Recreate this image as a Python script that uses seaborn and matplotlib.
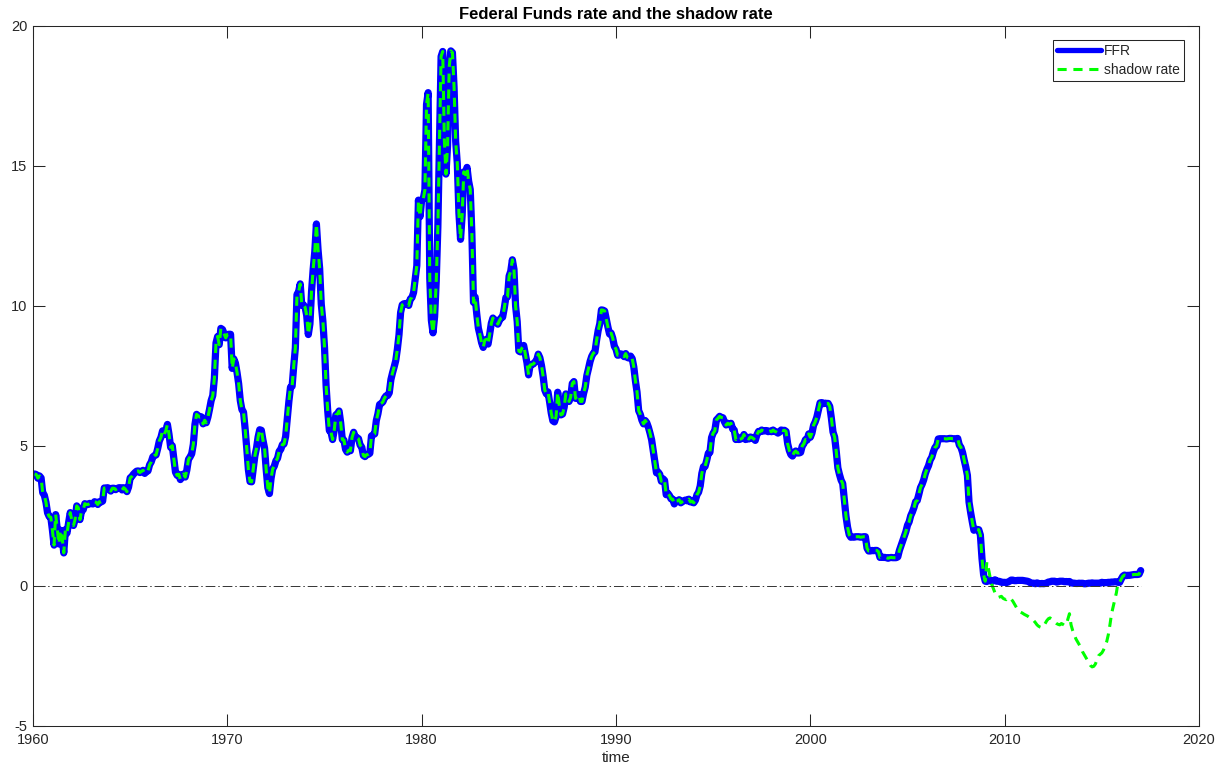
import numpy as np
import pandas as pd
import matplotlib
matplotlib.use("Agg")
import matplotlib.pyplot as plt
import seaborn as sns

# Effective Federal Funds rate, monthly averages (percent), Jan 1960 - Dec 2016
ffr_1960s = [
    3.99, 3.97, 3.84, 3.92, 3.85, 3.32, 3.23, 2.98, 2.60, 2.47, 2.44, 1.98,  # 1960
    1.45, 2.54, 2.02, 1.49, 1.98, 1.73, 1.17, 2.00, 1.88, 2.26, 2.61, 2.33,  # 1961
    2.15, 2.37, 2.85, 2.78, 2.36, 2.68, 2.71, 2.93, 2.90, 2.90, 2.94, 2.93,  # 1962
    2.92, 3.00, 2.98, 2.90, 3.00, 2.99, 3.02, 3.49, 3.48, 3.50, 3.48, 3.38,  # 1963
    3.48, 3.48, 3.43, 3.47, 3.50, 3.50, 3.42, 3.50, 3.45, 3.36, 3.52, 3.85,  # 1964
    3.90, 3.98, 4.04, 4.09, 4.10, 4.04, 4.09, 4.12, 4.01, 4.08, 4.10, 4.32,  # 1965
    4.42, 4.60, 4.65, 4.67, 4.90, 5.17, 5.30, 5.53, 5.40, 5.53, 5.76, 5.40,  # 1966
    4.94, 5.00, 4.53, 4.05, 3.94, 3.98, 3.79, 3.90, 3.99, 3.88, 4.13, 4.51,  # 1967
    4.60, 4.71, 5.05, 5.76, 6.12, 6.07, 6.02, 6.03, 5.78, 5.91, 5.82, 6.02,  # 1968
    6.30, 6.61, 6.79, 7.41, 8.67, 8.90, 8.61, 9.19, 9.15, 9.00, 8.85, 8.97,  # 1969
]
ffr_1970s = [
    8.98, 8.98, 7.76, 8.10, 7.95, 7.61, 7.21, 6.61, 6.29, 6.20, 5.60, 4.90,  # 1970
    4.14, 3.72, 3.71, 4.16, 4.63, 4.91, 5.31, 5.57, 5.55, 5.20, 4.91, 4.14,  # 1971
    3.50, 3.29, 3.83, 4.17, 4.27, 4.46, 4.55, 4.80, 4.87, 5.04, 5.06, 5.33,  # 1972
    5.94, 6.58, 7.09, 7.12, 7.84, 8.49, 10.40, 10.50, 10.78, 10.01, 10.03, 9.95,  # 1973
    9.65, 8.97, 9.35, 10.51, 11.31, 11.93, 12.92, 12.01, 11.34, 10.06, 9.45, 8.53,  # 1974
    7.13, 6.24, 5.54, 5.49, 5.22, 5.55, 6.10, 6.14, 6.24, 5.82, 5.22, 5.20,  # 1975
    4.87, 4.77, 4.84, 4.82, 5.29, 5.48, 5.31, 5.29, 5.25, 5.02, 4.95, 4.65,  # 1976
    4.61, 4.68, 4.69, 4.73, 5.35, 5.39, 5.42, 5.90, 6.14, 6.47, 6.51, 6.56,  # 1977
    6.70, 6.78, 6.79, 6.89, 7.36, 7.60, 7.81, 8.04, 8.45, 8.96, 9.76, 10.03,  # 1978
    10.07, 10.06, 10.09, 10.01, 10.24, 10.29, 10.47, 10.94, 11.43, 13.77, 13.18, 13.78,  # 1979
]
ffr_1980s = [
    13.82, 14.13, 17.19, 17.61, 10.98, 9.47, 9.03, 9.61, 10.87, 12.81, 15.85, 18.90,  # 1980
    19.08, 15.93, 14.70, 15.72, 18.52, 19.10, 19.04, 17.82, 15.87, 15.08, 13.31, 12.37,  # 1981
    13.22, 14.78, 14.68, 14.94, 14.45, 14.15, 12.59, 10.12, 10.31, 9.71, 9.20, 8.95,  # 1982
    8.68, 8.51, 8.77, 8.80, 8.63, 8.98, 9.37, 9.56, 9.45, 9.48, 9.34, 9.47,  # 1983
    9.56, 9.59, 9.91, 10.29, 10.32, 11.06, 11.23, 11.64, 11.30, 9.99, 9.43, 8.38,  # 1984
    8.35, 8.50, 8.58, 8.27, 7.97, 7.53, 7.88, 7.90, 7.92, 7.99, 8.05, 8.27,  # 1985
    8.14, 7.86, 7.48, 6.99, 6.85, 6.92, 6.56, 6.17, 5.89, 5.85, 6.04, 6.91,  # 1986
    6.43, 6.10, 6.13, 6.37, 6.85, 6.73, 6.58, 6.73, 7.22, 7.29, 6.69, 6.77,  # 1987
    6.83, 6.58, 6.58, 6.87, 7.09, 7.51, 7.75, 8.01, 8.19, 8.30, 8.35, 8.76,  # 1988
    9.12, 9.36, 9.85, 9.84, 9.81, 9.53, 9.24, 8.99, 9.02, 8.84, 8.55, 8.45,  # 1989
]
ffr_1990s = [
    8.23, 8.24, 8.28, 8.26, 8.18, 8.29, 8.15, 8.13, 8.20, 8.11, 7.81, 7.31,  # 1990
    6.91, 6.25, 6.12, 5.91, 5.78, 5.90, 5.82, 5.66, 5.45, 5.21, 4.81, 4.43,  # 1991
    4.03, 4.06, 3.98, 3.73, 3.82, 3.76, 3.25, 3.30, 3.22, 3.10, 3.09, 2.92,  # 1992
    3.02, 3.03, 3.07, 2.96, 3.00, 3.04, 3.06, 3.03, 3.09, 2.99, 3.02, 2.96,  # 1993
    3.05, 3.25, 3.34, 3.56, 4.01, 4.25, 4.26, 4.47, 4.73, 4.76, 5.29, 5.45,  # 1994
    5.53, 5.92, 5.98, 6.05, 6.01, 6.00, 5.85, 5.74, 5.80, 5.76, 5.80, 5.60,  # 1995
    5.56, 5.22, 5.31, 5.22, 5.24, 5.27, 5.40, 5.22, 5.30, 5.24, 5.31, 5.29,  # 1996
    5.25, 5.19, 5.39, 5.51, 5.50, 5.56, 5.52, 5.54, 5.54, 5.50, 5.52, 5.50,  # 1997
    5.56, 5.51, 5.49, 5.45, 5.49, 5.56, 5.54, 5.55, 5.51, 5.07, 4.83, 4.68,  # 1998
    4.63, 4.76, 4.81, 4.74, 4.74, 4.76, 4.99, 5.07, 5.22, 5.20, 5.42, 5.30,  # 1999
]
ffr_2000s = [
    5.45, 5.73, 5.85, 6.02, 6.27, 6.53, 6.54, 6.50, 6.52, 6.51, 6.51, 6.40,  # 2000
    5.98, 5.49, 5.31, 4.80, 4.21, 3.97, 3.77, 3.65, 3.07, 2.49, 2.09, 1.82,  # 2001
    1.73, 1.74, 1.73, 1.75, 1.75, 1.75, 1.73, 1.74, 1.75, 1.75, 1.34, 1.24,  # 2002
    1.24, 1.26, 1.25, 1.26, 1.26, 1.22, 1.01, 1.03, 1.01, 1.01, 1.00, 0.98,  # 2003
    1.00, 1.01, 1.00, 1.00, 1.00, 1.03, 1.26, 1.43, 1.61, 1.76, 1.93, 2.16,  # 2004
    2.28, 2.50, 2.63, 2.79, 3.00, 3.04, 3.26, 3.50, 3.62, 3.78, 4.00, 4.16,  # 2005
    4.29, 4.49, 4.59, 4.79, 4.94, 4.99, 5.24, 5.25, 5.25, 5.25, 5.25, 5.24,  # 2006
    5.25, 5.26, 5.26, 5.25, 5.25, 5.25, 5.26, 5.02, 4.94, 4.76, 4.49, 4.24,  # 2007
    3.94, 2.98, 2.61, 2.28, 1.98, 2.00, 2.01, 2.00, 1.81, 0.97, 0.39, 0.16,  # 2008
    0.15, 0.22, 0.18, 0.15, 0.18, 0.21, 0.16, 0.16, 0.15, 0.12, 0.12, 0.12,  # 2009
]
ffr_2010s = [
    0.11, 0.13, 0.16, 0.20, 0.20, 0.18, 0.18, 0.19, 0.19, 0.19, 0.19, 0.18,  # 2010
    0.17, 0.16, 0.14, 0.10, 0.09, 0.09, 0.07, 0.10, 0.08, 0.07, 0.08, 0.07,  # 2011
    0.08, 0.10, 0.13, 0.14, 0.16, 0.16, 0.16, 0.13, 0.14, 0.16, 0.16, 0.16,  # 2012
    0.14, 0.15, 0.14, 0.15, 0.11, 0.09, 0.09, 0.08, 0.08, 0.09, 0.08, 0.09,  # 2013
    0.07, 0.07, 0.08, 0.09, 0.09, 0.10, 0.09, 0.09, 0.09, 0.09, 0.09, 0.12,  # 2014
    0.11, 0.11, 0.11, 0.12, 0.12, 0.13, 0.13, 0.14, 0.14, 0.12, 0.12, 0.24,  # 2015
    0.34, 0.38, 0.36, 0.37, 0.37, 0.38, 0.39, 0.40, 0.40, 0.40, 0.41, 0.54,  # 2016
]

# Shadow rate while the policy rate sat at the lower bound, Jan 2009 - Oct 2015
shadow_zlb = [
    0.85, 0.60, 0.30, 0.05, -0.10, -0.25, -0.35, -0.42, -0.40, -0.38, -0.45, -0.48,  # 2009
    -0.50, -0.45, -0.42, -0.48, -0.55, -0.65, -0.75, -0.85, -0.92, -0.95, -0.98, -1.02,  # 2010
    -1.05, -1.08, -1.12, -1.15, -1.20, -1.25, -1.32, -1.40, -1.45, -1.48, -1.50, -1.45,  # 2011
    -1.35, -1.25, -1.18, -1.15, -1.20, -1.25, -1.30, -1.35, -1.38, -1.40, -1.35, -1.38,  # 2012
    -1.42, -1.40, -1.20, -1.00, -1.40, -1.60, -1.75, -1.90, -2.00, -2.10, -2.20, -2.35,  # 2013
    -2.45, -2.55, -2.65, -2.75, -2.85, -2.90, -2.88, -2.80, -2.65, -2.50, -2.45, -2.40,  # 2014
    -2.30, -2.15, -2.00, -1.75, -1.40, -1.00, -0.75, -0.50, -0.25, 0.12,  # 2015 Jan-Oct
]
zlb_start = 2009  # first year of the shadow-rate segment

start_year = 1960
ffr = np.array(ffr_1960s + ffr_1970s + ffr_1980s + ffr_1990s + ffr_2000s + ffr_2010s)
n = len(ffr)
time = start_year + np.arange(1, n + 1) / 12.0

shadow = ffr.copy()
i0 = (zlb_start - start_year) * 12
shadow[i0:i0 + len(shadow_zlb)] = shadow_zlb

df = pd.DataFrame({"time": time, "FFR": ffr, "shadow rate": shadow,
                   "zero": np.zeros(n)})

sns.set_theme(style="white")
plt.rcParams.update({
    "font.family": ["Liberation Sans", "DejaVu Sans"],
    "axes.unicode_minus": False,
    "axes.edgecolor": "#262626",
    "axes.linewidth": 0.75,
    "xtick.color": "#262626",
    "ytick.color": "#262626",
    "xtick.direction": "in",
    "ytick.direction": "in",
    "xtick.top": True,
    "xtick.bottom": True,
    "ytick.left": True,
    "ytick.right": True,
    "xtick.major.size": 8.5,
    "ytick.major.size": 8.5,
    "xtick.major.width": 0.75,
    "ytick.major.width": 0.75,
    "xtick.labelsize": 10.5,
    "ytick.labelsize": 10.5,
})

fig = plt.figure(figsize=(12.21, 7.74), dpi=100)
ax = fig.add_axes([33 / 1221, 48.3 / 774, 1166 / 1221, 700 / 774])

sns.lineplot(data=df, x="time", y="FFR", ax=ax, color="#0000ff",
             linewidth=5.2, label="FFR", solid_capstyle="round",
             solid_joinstyle="round")
sns.lineplot(data=df, x="time", y="shadow rate", ax=ax, color="#00ff00",
             linewidth=2.2, label="shadow rate", dashes=False)
ax.lines[-1].set_dashes((3.0, 2.2))
sns.lineplot(data=df, x="time", y="zero", ax=ax, color="#333333",
             linewidth=0.7, legend=False)
ax.lines[-1].set_dashes((10, 3, 1.5, 3))

ax.set_xlim(1960, 2020)
ax.set_ylim(-5, 20)
ax.set_xticks(np.arange(1960, 2021, 10))
ax.set_yticks(np.arange(-5, 21, 5))
ax.tick_params(axis="x", which="both", bottom=True, top=True, pad=5)
ax.tick_params(axis="y", which="both", left=True, right=True, pad=4)
for s in ax.spines.values():
    s.set_visible(True)

ax.set_title("Federal Funds rate and the shadow rate", fontsize=12,
             fontweight="bold", color="black", pad=5)
ax.set_xlabel("time", fontsize=11, color="#262626", labelpad=3)
ax.set_ylabel("")

leg = ax.legend(loc="upper right", bbox_to_anchor=(0.9872, 0.9796),
                borderaxespad=0, fancybox=False, framealpha=1,
                edgecolor="#262626", fontsize=10, handlelength=3.2,
                handletextpad=0.2, borderpad=0.3, labelspacing=0.35)
leg.get_frame().set_linewidth(0.75)
leg.get_lines()[0].set_linewidth(3.8)

fig.savefig("out.png", dpi=100)
